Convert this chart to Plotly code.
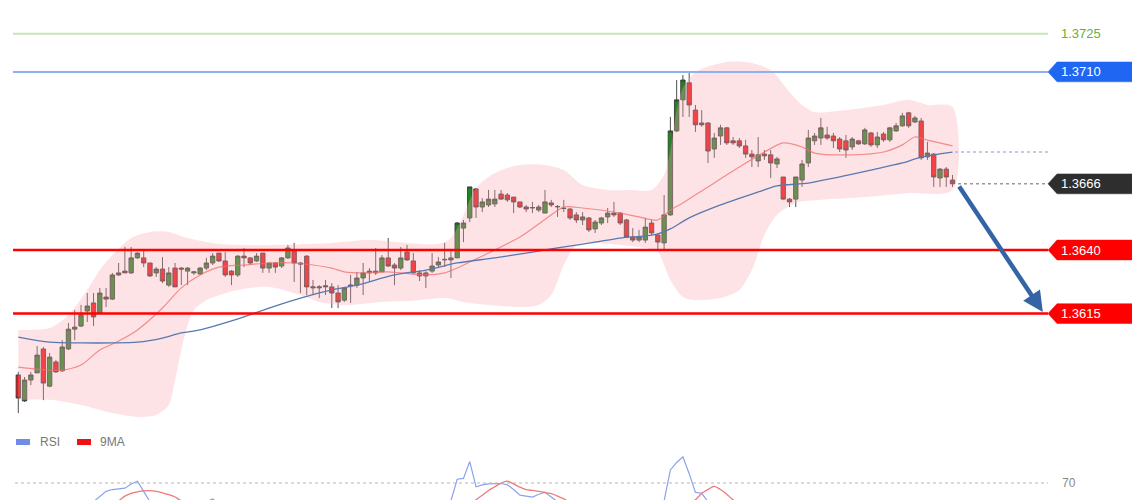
import plotly.graph_objects as go

# ---------------- candle data ----------------
open_ = [
    1.35909, 1.35807, 1.35889, 1.35917, 1.36011, 1.35865, 1.35960, 1.35925, 1.36011, 1.36089,
    1.36101, 1.36160, 1.36192, 1.36152, 1.36215, 1.36207, 1.36302, 1.36317, 1.36310, 1.36369,
    1.36369, 1.36349, 1.36310, 1.36325, 1.36262, 1.36329, 1.36329, 1.36317, 1.36310, 1.36306,
    1.36329, 1.36349, 1.36388, 1.36357, 1.36317, 1.36302, 1.36376, 1.36369, 1.36357, 1.36388,
    1.36329, 1.36349, 1.36337, 1.36369, 1.36396, 1.36349, 1.36376, 1.36251, 1.36251, 1.36255,
    1.36255, 1.36231, 1.36203, 1.36259, 1.36262, 1.36290, 1.36310, 1.36310, 1.36314, 1.36369,
    1.36341, 1.36329, 1.36392, 1.36357, 1.36310, 1.36310, 1.36317, 1.36341, 1.36361, 1.36361,
    1.36369, 1.36486, 1.36526, 1.36640, 1.36569, 1.36577, 1.36581, 1.36620, 1.36616, 1.36608,
    1.36589, 1.36569, 1.36565, 1.36557, 1.36545, 1.36585, 1.36569, 1.36565, 1.36561, 1.36538,
    1.36518, 1.36526, 1.36483, 1.36506, 1.36530, 1.36545, 1.36545, 1.36518, 1.36451, 1.36439,
    1.36439, 1.36506, 1.36459, 1.36428, 1.36538, 1.36868, 1.36990, 1.37057, 1.36950, 1.36899,
    1.36899, 1.36797, 1.36848, 1.36880, 1.36829, 1.36829, 1.36809, 1.36777, 1.36750, 1.36777,
    1.36774, 1.36738, 1.36687, 1.36600, 1.36600, 1.36675, 1.36742, 1.36829, 1.36840, 1.36852,
    1.36848, 1.36836, 1.36829, 1.36805, 1.36829, 1.36817, 1.36860, 1.36813, 1.36856, 1.36833,
    1.36868, 1.36888, 1.36939, 1.36903, 1.36907, 1.36766, 1.36777, 1.36683, 1.36718, 1.36675,
]
high = [
    1.35921, 1.35901, 1.35921, 1.36023, 1.36019, 1.35995, 1.35968, 1.36046, 1.36113, 1.36164,
    1.36184, 1.36231, 1.36231, 1.36251, 1.36251, 1.36310, 1.36349, 1.36412, 1.36412, 1.36392,
    1.36400, 1.36349, 1.36333, 1.36372, 1.36333, 1.36349, 1.36333, 1.36333, 1.36317, 1.36333,
    1.36369, 1.36388, 1.36388, 1.36392, 1.36321, 1.36380, 1.36408, 1.36372, 1.36388, 1.36388,
    1.36349, 1.36353, 1.36372, 1.36420, 1.36428, 1.36353, 1.36380, 1.36282, 1.36262, 1.36282,
    1.36270, 1.36262, 1.36255, 1.36302, 1.36314, 1.36349, 1.36329, 1.36408, 1.36380, 1.36447,
    1.36349, 1.36412, 1.36420, 1.36388, 1.36321, 1.36317, 1.36388, 1.36372, 1.36428, 1.36400,
    1.36510, 1.36518, 1.36648, 1.36644, 1.36604, 1.36636, 1.36636, 1.36636, 1.36624, 1.36608,
    1.36589, 1.36577, 1.36589, 1.36577, 1.36636, 1.36597, 1.36577, 1.36597, 1.36565, 1.36549,
    1.36549, 1.36530, 1.36518, 1.36530, 1.36565, 1.36589, 1.36549, 1.36522, 1.36486, 1.36479,
    1.36526, 1.36518, 1.36467, 1.36616, 1.36923, 1.37068, 1.37088, 1.37096, 1.36970, 1.36950,
    1.36903, 1.36860, 1.36892, 1.36884, 1.36844, 1.36840, 1.36833, 1.36793, 1.36844, 1.36793,
    1.36793, 1.36766, 1.36687, 1.36604, 1.36687, 1.36754, 1.36872, 1.36860, 1.36919, 1.36884,
    1.36860, 1.36844, 1.36852, 1.36844, 1.36833, 1.36880, 1.36864, 1.36864, 1.36864, 1.36884,
    1.36899, 1.36939, 1.36943, 1.36927, 1.36919, 1.36825, 1.36781, 1.36722, 1.36726, 1.36695,
]
low = [
    1.35759, 1.35803, 1.35869, 1.35917, 1.35810, 1.35861, 1.35917, 1.35921, 1.36007, 1.36046,
    1.36097, 1.36117, 1.36101, 1.36152, 1.36176, 1.36203, 1.36298, 1.36310, 1.36306, 1.36365,
    1.36333, 1.36294, 1.36294, 1.36270, 1.36255, 1.36255, 1.36262, 1.36262, 1.36302, 1.36302,
    1.36321, 1.36341, 1.36353, 1.36294, 1.36262, 1.36294, 1.36333, 1.36341, 1.36353, 1.36310,
    1.36310, 1.36310, 1.36329, 1.36365, 1.36274, 1.36231, 1.36223, 1.36223, 1.36211, 1.36223,
    1.36172, 1.36172, 1.36196, 1.36192, 1.36251, 1.36223, 1.36274, 1.36302, 1.36314, 1.36333,
    1.36262, 1.36321, 1.36357, 1.36306, 1.36278, 1.36251, 1.36310, 1.36333, 1.36333, 1.36290,
    1.36369, 1.36431, 1.36510, 1.36526, 1.36549, 1.36569, 1.36569, 1.36597, 1.36589, 1.36545,
    1.36565, 1.36549, 1.36545, 1.36549, 1.36545, 1.36569, 1.36530, 1.36549, 1.36518, 1.36506,
    1.36498, 1.36471, 1.36467, 1.36498, 1.36506, 1.36530, 1.36498, 1.36447, 1.36431, 1.36431,
    1.36428, 1.36459, 1.36400, 1.36400, 1.36534, 1.36864, 1.36923, 1.36923, 1.36864, 1.36884,
    1.36742, 1.36762, 1.36813, 1.36813, 1.36813, 1.36801, 1.36762, 1.36726, 1.36726, 1.36754,
    1.36683, 1.36722, 1.36597, 1.36569, 1.36569, 1.36648, 1.36726, 1.36813, 1.36813, 1.36833,
    1.36801, 1.36785, 1.36762, 1.36793, 1.36813, 1.36813, 1.36805, 1.36801, 1.36825, 1.36825,
    1.36864, 1.36884, 1.36880, 1.36899, 1.36754, 1.36754, 1.36648, 1.36648, 1.36648, 1.36648,
]
close = [
    1.35818, 1.35889, 1.35909, 1.35987, 1.35877, 1.35979, 1.35921, 1.36019, 1.36089, 1.36097,
    1.36145, 1.36180, 1.36137, 1.36231, 1.36207, 1.36302, 1.36310, 1.36310, 1.36369, 1.36388,
    1.36349, 1.36298, 1.36325, 1.36278, 1.36310, 1.36255, 1.36325, 1.36329, 1.36314, 1.36329,
    1.36349, 1.36376, 1.36357, 1.36302, 1.36302, 1.36376, 1.36369, 1.36349, 1.36376, 1.36329,
    1.36349, 1.36333, 1.36369, 1.36408, 1.36349, 1.36345, 1.36255, 1.36255, 1.36255, 1.36259,
    1.36231, 1.36196, 1.36251, 1.36262, 1.36290, 1.36310, 1.36317, 1.36317, 1.36369, 1.36337,
    1.36329, 1.36369, 1.36361, 1.36310, 1.36298, 1.36298, 1.36337, 1.36353, 1.36363, 1.36369,
    1.36506, 1.36506, 1.36648, 1.36569, 1.36589, 1.36600, 1.36600, 1.36600, 1.36597, 1.36589,
    1.36569, 1.36561, 1.36567, 1.36569, 1.36589, 1.36577, 1.36571, 1.36563, 1.36526, 1.36518,
    1.36530, 1.36479, 1.36510, 1.36526, 1.36545, 1.36538, 1.36506, 1.36451, 1.36439, 1.36451,
    1.36490, 1.36467, 1.36431, 1.36538, 1.36868, 1.36990, 1.37068, 1.36970, 1.36892, 1.36892,
    1.36789, 1.36840, 1.36880, 1.36821, 1.36821, 1.36809, 1.36777, 1.36766, 1.36774, 1.36770,
    1.36742, 1.36758, 1.36600, 1.36589, 1.36687, 1.36738, 1.36840, 1.36848, 1.36880, 1.36840,
    1.36829, 1.36797, 1.36793, 1.36836, 1.36817, 1.36872, 1.36813, 1.36844, 1.36833, 1.36880,
    1.36888, 1.36927, 1.36888, 1.36919, 1.36762, 1.36781, 1.36687, 1.36718, 1.36687, 1.36660,
]
candle_idx = list(range(len(close)))

# ---------------- overlays ----------------
bb_upper_idx = [0, 5, 8, 11, 13, 15, 18, 21, 24, 27, 32, 40, 50, 56, 62, 67, 69, 71, 73, 76,
                80, 84, 87, 90, 94, 98, 101, 103, 104, 105, 106, 108, 113, 117, 120, 123, 125,
                127, 132, 138, 142, 145, 149]
bb_upper = [1.36086, 1.36093, 1.36145, 1.36243, 1.36321, 1.36380, 1.36447, 1.36471, 1.36471,
            1.36447, 1.36424, 1.36420, 1.36428, 1.36439, 1.36428, 1.36424, 1.36447, 1.36538,
            1.36644, 1.36703, 1.36734, 1.36734, 1.36714, 1.36655, 1.36636, 1.36636, 1.36636,
            1.36695, 1.36793, 1.36950, 1.37037, 1.37100, 1.37139, 1.37135, 1.37107, 1.37021,
            1.36970, 1.36942, 1.36950, 1.36970, 1.36990, 1.36970, 1.36962]
bb_lower_idx = [0, 5, 10, 15, 19, 22, 24, 25, 26, 27, 28, 30, 35, 40, 45, 48, 52, 58, 64, 68,
                71, 75, 80, 83, 85, 87, 89, 92, 96, 100, 102, 103, 104, 106, 108, 112, 115, 117,
                119, 121, 124, 128, 135, 142, 149]
bb_lower = [1.35811, 1.35811, 1.35791, 1.35759, 1.35744, 1.35752, 1.35791, 1.35889, 1.36007,
            1.36105, 1.36164, 1.36203, 1.36243, 1.36255, 1.36223, 1.36196, 1.36184, 1.36196,
            1.36203, 1.36211, 1.36196, 1.36184, 1.36176, 1.36184, 1.36223, 1.36341, 1.36420,
            1.36428, 1.36420, 1.36408, 1.36392, 1.36341, 1.36282, 1.36215, 1.36203, 1.36211,
            1.36243, 1.36321, 1.36459, 1.36538, 1.36585, 1.36597, 1.36608, 1.36624, 1.36636]
bb_mid_idx = [0, 5, 7, 10, 13, 16, 19, 23, 26, 29, 32, 36, 40, 44, 47, 50, 52, 55, 59, 65, 68,
              70, 72, 75, 80, 85, 87, 90, 96, 99, 102, 104, 106, 110, 115, 119, 122, 125, 127,
              133, 138, 141, 143, 145, 149]
bb_mid = [1.35940, 1.35928, 1.35928, 1.35948, 1.36007, 1.36042, 1.36086, 1.36172, 1.36251,
          1.36302, 1.36333, 1.36341, 1.36349, 1.36349, 1.36341, 1.36329, 1.36314, 1.36310,
          1.36314, 1.36302, 1.36310, 1.36329, 1.36353, 1.36388, 1.36451, 1.36538, 1.36569,
          1.36565, 1.36545, 1.36530, 1.36518, 1.36557, 1.36585, 1.36648, 1.36726, 1.36785,
          1.36821, 1.36805, 1.36781, 1.36774, 1.36785, 1.36813, 1.36844, 1.36832, 1.36809]
ma_long_idx = [0, 5, 10, 15, 19, 23, 26, 29, 34, 40, 45, 50, 54, 60, 65, 70, 76, 82, 86, 92, 96,
               100, 102, 104, 107, 112, 118, 121, 126, 131, 136, 141, 144, 149]
ma_long = [1.36058, 1.36038, 1.36035, 1.36035, 1.36038, 1.36054, 1.36074, 1.36086, 1.36121,
           1.36172, 1.36211, 1.36243, 1.36262, 1.36302, 1.36321, 1.36349, 1.36369, 1.36392,
           1.36408, 1.36431, 1.36447, 1.36455, 1.36463, 1.36483, 1.36526, 1.36577, 1.36628,
           1.36652, 1.36663, 1.36687, 1.36714, 1.36742, 1.36765, 1.36785]

# RSI panel (only the top of it is visible)
rsi_idx = [0, 6, 12, 13, 14, 15, 16, 17, 18, 19, 20, 21, 24, 30, 31, 32, 40, 50, 60, 68,
           69, 70, 71, 72, 73, 74, 75, 76, 77, 78, 79, 80, 81, 82, 83, 84, 85, 86, 92, 100,
           103, 104, 105, 106, 107, 108, 109, 110, 118, 130, 140, 149]
rsi_val = [40, 46, 50, 55, 61, 63, 63.5, 64.5, 69, 72, 61, 50, 46, 50, 53, 48, 45, 36, 42, 47,
           51, 74, 75, 93, 66, 68, 69, 69.5, 69.5, 68, 63, 57, 56, 55, 58, 60, 55, 50, 42, 38,
           51, 84, 92, 98, 80, 60, 59, 50, 44, 48, 45, 35]
ma9_idx = [0, 10, 15, 16, 17, 18, 19, 20, 21, 22, 23, 24, 25, 26, 28, 40, 60, 72, 73, 74,
           75, 76, 77, 78, 79, 80, 81, 82, 83, 84, 85, 86, 87, 88, 100, 107, 108, 109, 110, 111,
           112, 113, 114, 115, 130, 149]
ma9_val = [42, 44, 48, 51, 56, 59, 60.5, 61.5, 61.8, 61, 59.5, 57.5, 55, 51, 48, 44, 42, 48, 52, 57,
           62, 66, 70, 72, 69, 65.5, 63, 62, 61, 60, 58.5, 56, 53, 50, 42, 48, 52, 59, 63, 66.5,
           63, 58, 52, 48, 46, 44]

# key levels
level_values = [1.3725, 1.3710, 1.3666, 1.3640, 1.3615]
level_labels = ["1.3725", "1.3710", "1.3666", "1.3640", "1.3615"]
rsi_level = 70
target_start = (149.9, 1.36655)
target_end = (163.4, 1.36156)

# ---------------- figure ----------------
# The page body has an 8px margin, so the figure is drawn 8px smaller and
# every page-pixel position below is shifted by that margin.
OFF = 8
W, H = 1140 - OFF, 500 - OFF
FONT = "Liberation Sans, Arial, sans-serif"


def px(p):
    """page x pixel -> paper x"""
    return (p - OFF) / W


def py(p):
    """page y pixel -> paper y"""
    return 1 - (p - OFF) / H


fig = go.Figure()

fig.add_trace(go.Scatter(
    x=bb_upper_idx + bb_lower_idx[::-1],
    y=bb_upper + bb_lower[::-1],
    fill="toself", fillcolor="rgba(250,170,178,0.33)",
    line=dict(width=0, shape="spline", smoothing=0.8),
    mode="lines", hoverinfo="skip", showlegend=False))

fig.add_trace(go.Scatter(
    x=bb_mid_idx, y=bb_mid, mode="lines",
    line=dict(color="rgba(240,110,110,0.75)", width=1.2, shape="spline", smoothing=0.8),
    hoverinfo="skip", showlegend=False))

fig.add_trace(go.Scatter(
    x=ma_long_idx, y=ma_long, mode="lines",
    line=dict(color="#5a78b0", width=1.3, shape="spline", smoothing=0.8),
    hoverinfo="skip", showlegend=False))

fig.add_trace(go.Candlestick(
    x=candle_idx, open=open_, high=high, low=low, close=close,
    increasing=dict(fillcolor="#21861f", line=dict(color="#3a3a3a", width=0.9)),
    decreasing=dict(fillcolor="#f21010", line=dict(color="#3a3a3a", width=0.9)),
    whiskerwidth=0, hoverinfo="skip", showlegend=False))

fig.add_trace(go.Scatter(
    x=rsi_idx, y=rsi_val, mode="lines", yaxis="y2",
    line=dict(color="#8aa2ee", width=1.2), hoverinfo="skip", showlegend=False))
fig.add_trace(go.Scatter(
    x=ma9_idx, y=ma9_val, mode="lines", yaxis="y2",
    line=dict(color="#f07a7a", width=1.3, shape="spline", smoothing=0.8),
    hoverinfo="skip", showlegend=False))

line_x0, line_x1 = px(13), px(1048)
tag_tip, tag_left, tag_right = px(1048), px(1057), px(1137)
half_h = 0.00039

shapes = []
shapes.append(dict(type="line", xref="paper", yref="y", x0=line_x0, x1=line_x1,
                   y0=level_values[0], y1=level_values[0],
                   line=dict(color="#c8e4b4", width=2), layer="below"))
shapes.append(dict(type="line", xref="paper", yref="y", x0=line_x0, x1=line_x1,
                   y0=level_values[1], y1=level_values[1],
                   line=dict(color="#8fb0f2", width=2), layer="above"))
for v in (level_values[3], level_values[4]):
    shapes.append(dict(type="line", xref="paper", yref="y", x0=line_x0, x1=line_x1,
                       y0=v, y1=v, line=dict(color="#ff0000", width=2.5), layer="above"))
shapes.append(dict(type="line", xref="paper", yref="y", x0=px(955), x1=line_x1,
                   y0=ma_long[-1], y1=ma_long[-1],
                   line=dict(color="#a9bcdc", width=1.5, dash="dot")))
shapes.append(dict(type="line", xref="paper", yref="y", x0=px(958), x1=line_x1,
                   y0=level_values[2], y1=level_values[2],
                   line=dict(color="#9a9a9a", width=1.5, dash="dot")))

tag_colors = {1: "#1f66f2", 2: "#2e2e2e", 3: "#ff0000", 4: "#ff0000"}
for k, col in tag_colors.items():
    v = level_values[k]
    path = (f"M {tag_tip},{v} L {tag_left},{v + half_h} L {tag_right},{v + half_h} "
            f"L {tag_right},{v - half_h} L {tag_left},{v - half_h} Z")
    shapes.append(dict(type="path", xref="paper", yref="y", path=path,
                       fillcolor=col, line=dict(color=col, width=0.5), layer="above"))

shapes.append(dict(type="line", xref="paper", yref="y2", x0=px(15), x1=line_x1,
                   y0=rsi_level, y1=rsi_level,
                   line=dict(color="#b5b5b5", width=1, dash="dot")))
shapes.append(dict(type="rect", xref="paper", yref="paper",
                   x0=px(16), x1=px(30), y0=py(445), y1=py(439),
                   fillcolor="#6f8de6", line=dict(width=0)))
shapes.append(dict(type="rect", xref="paper", yref="paper",
                   x0=px(77), x1=px(91), y0=py(445), y1=py(439),
                   fillcolor="#ee1111", line=dict(width=0)))
shapes.append(dict(type="line", xref="paper", yref="paper", x0=px(1138.5), x1=px(1138.5),
                   y0=0, y1=1, line=dict(color="#e2e2e2", width=1)))

annotations = []
annotations.append(dict(xref="paper", yref="y", x=px(1059), y=level_values[0],
                        text=level_labels[0], showarrow=False, xanchor="left",
                        yanchor="middle",
                        font=dict(family=FONT, size=13, color="#6aae3c")))
for k in tag_colors:
    annotations.append(dict(xref="paper", yref="y", x=px(1059), y=level_values[k],
                            text=level_labels[k], showarrow=False, xanchor="left",
                            yanchor="middle",
                            font=dict(family=FONT, size=13, color="#ffffff")))
annotations.append(dict(xref="paper", yref="y2", x=px(1060), y=rsi_level,
                        text=str(rsi_level), showarrow=False, xanchor="left",
                        yanchor="middle",
                        font=dict(family=FONT, size=12, color="#888888")))
annotations.append(dict(xref="paper", yref="paper", x=px(38), y=py(442),
                        text="RSI", showarrow=False, xanchor="left", yanchor="middle",
                        font=dict(family=FONT, size=12, color="#777777")))
annotations.append(dict(xref="paper", yref="paper", x=px(98), y=py(442),
                        text="9MA", showarrow=False, xanchor="left", yanchor="middle",
                        font=dict(family=FONT, size=12, color="#777777")))
annotations.append(dict(x=target_end[0], y=target_end[1], xref="x", yref="y",
                        ax=target_start[0], ay=target_start[1], axref="x", ayref="y",
                        text="", showarrow=True, arrowhead=2, arrowsize=0.9,
                        arrowwidth=4.5, arrowcolor="#3564a6"))

# axis ranges: candle i sits at page x = 18.3 + 6.27 i; 1.3640 sits at page y = 250
ppx = 6.27
ppp = 0.0000393  # price per pixel
x_range = [(OFF - 18.3) / ppx, (OFF + W - 18.3) / ppx]
y_range = [1.3640 - (OFF + H - 250) * ppp, 1.3640 + (250 - OFF) * ppp]

fig.update_layout(
    width=W, height=H,
    margin=dict(l=0, r=0, t=0, b=0),
    paper_bgcolor="#ffffff", plot_bgcolor="rgba(0,0,0,0)",
    boxgap=0.3, boxgroupgap=0,
    xaxis=dict(range=x_range, visible=False, rangeslider=dict(visible=False),
               showgrid=False, zeroline=False, fixedrange=True),
    yaxis=dict(range=y_range, domain=[0, 1], visible=False, showgrid=False,
               zeroline=False, fixedrange=True),
    yaxis2=dict(range=[51.8, 100], domain=[0, (500 - 455) / H], anchor="x", visible=False,
                showgrid=False, zeroline=False, fixedrange=True),
    shapes=shapes, annotations=annotations,
    showlegend=False, hovermode=False,
)

fig.write_html("out.html", config={"displayModeBar": False})
